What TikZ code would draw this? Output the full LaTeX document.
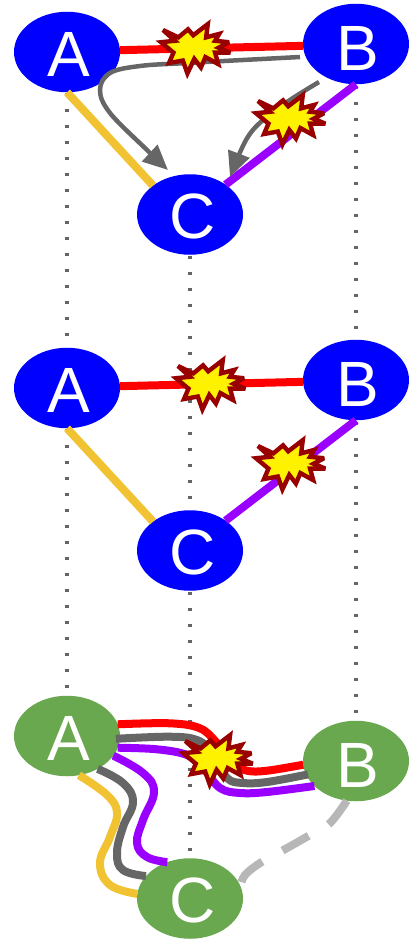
\documentclass[tikz,border=0pt]{standalone}
\usepackage{fontspec}
\setmainfont{Liberation Sans}
\usetikzlibrary{shapes.geometric,arrows.meta,backgrounds}
\definecolor{cblue}{HTML}{0000FF}
\definecolor{cgreen}{HTML}{6AA84F}
\definecolor{cred}{HTML}{FF0000}
\definecolor{cgrey}{HTML}{666666}
\definecolor{cyel}{HTML}{F1C232}
\definecolor{cpur}{HTML}{9900FF}
\definecolor{cdark}{HTML}{990000}
\definecolor{clight}{HTML}{B7B7B7}
\tikzset{
  vertex/.style={ellipse,minimum width=106pt,minimum height=80.5pt,inner sep=0pt,outer sep=0pt,
    text=white,font=\fontsize{64pt}{64pt}\selectfont,text depth=0pt,text height=48pt},
  bluev/.style={vertex,fill=cblue},
  greenv/.style={vertex,fill=cgreen},
  lowb/.style={text height=53pt},
  dots/.style={draw=cgrey,line width=3.6pt,dash pattern=on 3.6pt off 12.4pt},
  thick line/.style={line width=8pt},
  redl/.style={thick line,draw=cred},
  yell/.style={thick line,draw=cyel},
  purl/.style={thick line,draw=cpur},
  greyl/.style={thick line,draw=cgrey},
  thinarrow/.style={draw=cgrey,line width=4.5pt,-{Triangle[length=25pt,width=22pt,fill=cgrey]}},
  gonel/.style={thick line,draw=clight,dash pattern=on 30pt off 23pt},
  burst/.style={draw=cdark,fill=yellow,line width=4.4pt,line join=miter,miter limit=3},
}
\newcommand{\burstpath}[1]{%
  \draw[burst,shift={#1},scale=1.04] (-30.7,-16)--(-16,-9)--(-6.7,-16.7)--(-1.7,-11)--(12.3,-21.7)--(10.7,-9)--(23.3,-12.3)--(19.3,-5.7)--(32.7,-4.3)--(22.7,1)--(34,5.7)--(19.3,5.7)--(22.3,16.7)--(10,10)--(5.7,20)--(-0.7,11.7)--(-7.3,25.7)--(-11.7,13.3)--(-25,15.7)--(-20.7,5.7)--(-32.7,-4.3)--(-19.3,-5.7)--cycle;}
\begin{document}
\begin{tikzpicture}[x=1pt,y=-1pt]
\useasboundingbox (0,0) rectangle (413,940);
% vertices
\node[bluev] (A1) at (67,52) {\hspace*{3pt}A};
\node[bluev,lowb] (B1) at (356,44) {\hspace*{3pt}B};
\node[bluev] (C1) at (190,214.5) {\hspace*{6pt}C};
\node[bluev] (A2) at (67,388) {\hspace*{3pt}A};
\node[bluev,lowb] (B2) at (356,380) {\hspace*{3pt}B};
\node[bluev] (C2) at (190,550.5) {\hspace*{6pt}C};
\node[greenv] (A3) at (67,736) {\hspace*{3pt}A};
\node[greenv,lowb] (B3) at (356,761) {\hspace*{3pt}B};
\node[greenv] (C3) at (190,898.5) {\hspace*{6pt}C};
% dotted verticals
\begin{scope}[on background layer]
\draw[dots,dash phase=7.2pt] (A1.center) -- (A3.center);
\draw[dots,dash phase=6.7pt] (C1.center) -- (C3.center);
\draw[dots,dash phase=6.5pt] (B1.center) -- (B3.center);
\end{scope}
% top
\coordinate (g1s) at (300,57);
\coordinate (g1e) at (168,170);
\coordinate (g2s) at (319,82);
\coordinate (g2e) at (230,177);
\draw[redl] (A1.2) -- (B1.182);
\draw[yell] (A1.south) -- (C1.142);
\draw[purl] (B1.south) -- (C1.40);
\draw[thinarrow] plot[smooth,tension=.6] coordinates {(g1s) (187,63) (140,66) (110,73) (100,90) (110,113) (147,150) (g1e)};
\draw[thinarrow] plot[smooth,tension=.6] coordinates {(g2s) (290,100) (263,120) (246,140) (g2e)};
\burstpath{(195,46.7)}
\burstpath{(290,117.7)}
% middle
\draw[redl] (A2.2) -- (B2.182);
\draw[yell] (A2.south) -- (C2.142);
\draw[purl] (B2.south) -- (C2.40);
\burstpath{(210,382.7)}
\burstpath{(290,462.7)}
% bottom
\draw[redl] plot[smooth,tension=.6] coordinates {(A3.13) (170,723.3) (200,728.3) (217,743) (233,763) (247,770.7) (267,770.7) (B3.184)};
\draw[greyl] plot[smooth,tension=.6] coordinates {([xshift=-4pt]A3.-3) (170,736.7) (197,740) (213,753) (227,778) (243,783) (267,782) ([xshift=2pt]B3.-165)};
\draw[purl] plot[smooth,tension=.6] coordinates {(A3.-13) (157,749.3) (187,755) (203,768) (220,788) (240,793) (267,792) (B3.-149)};
\draw[yell] plot[smooth,tension=.7] coordinates {(A3.-73) (107,795) (117,813) (110,837) (100,863) (110,885) (C3.175)};
\draw[greyl] plot[smooth,tension=.7] coordinates {(A3.-47) (123,783) (133,802) (123,827) (117,853) (123,870) (C3.153)};
\draw[purl] plot[smooth,tension=.7] coordinates {(A3.-23) (143,773) (154,792) (143,820) (137,843) (147,857) (C3.122)};
\draw[gonel] plot[smooth,tension=.6] coordinates {(B3.-103) (330,823) (310,835) (280,852) (260,863) (245,875) (C3.14)};
\burstpath{(217.3,757.7)}
\end{tikzpicture}
\end{document}
